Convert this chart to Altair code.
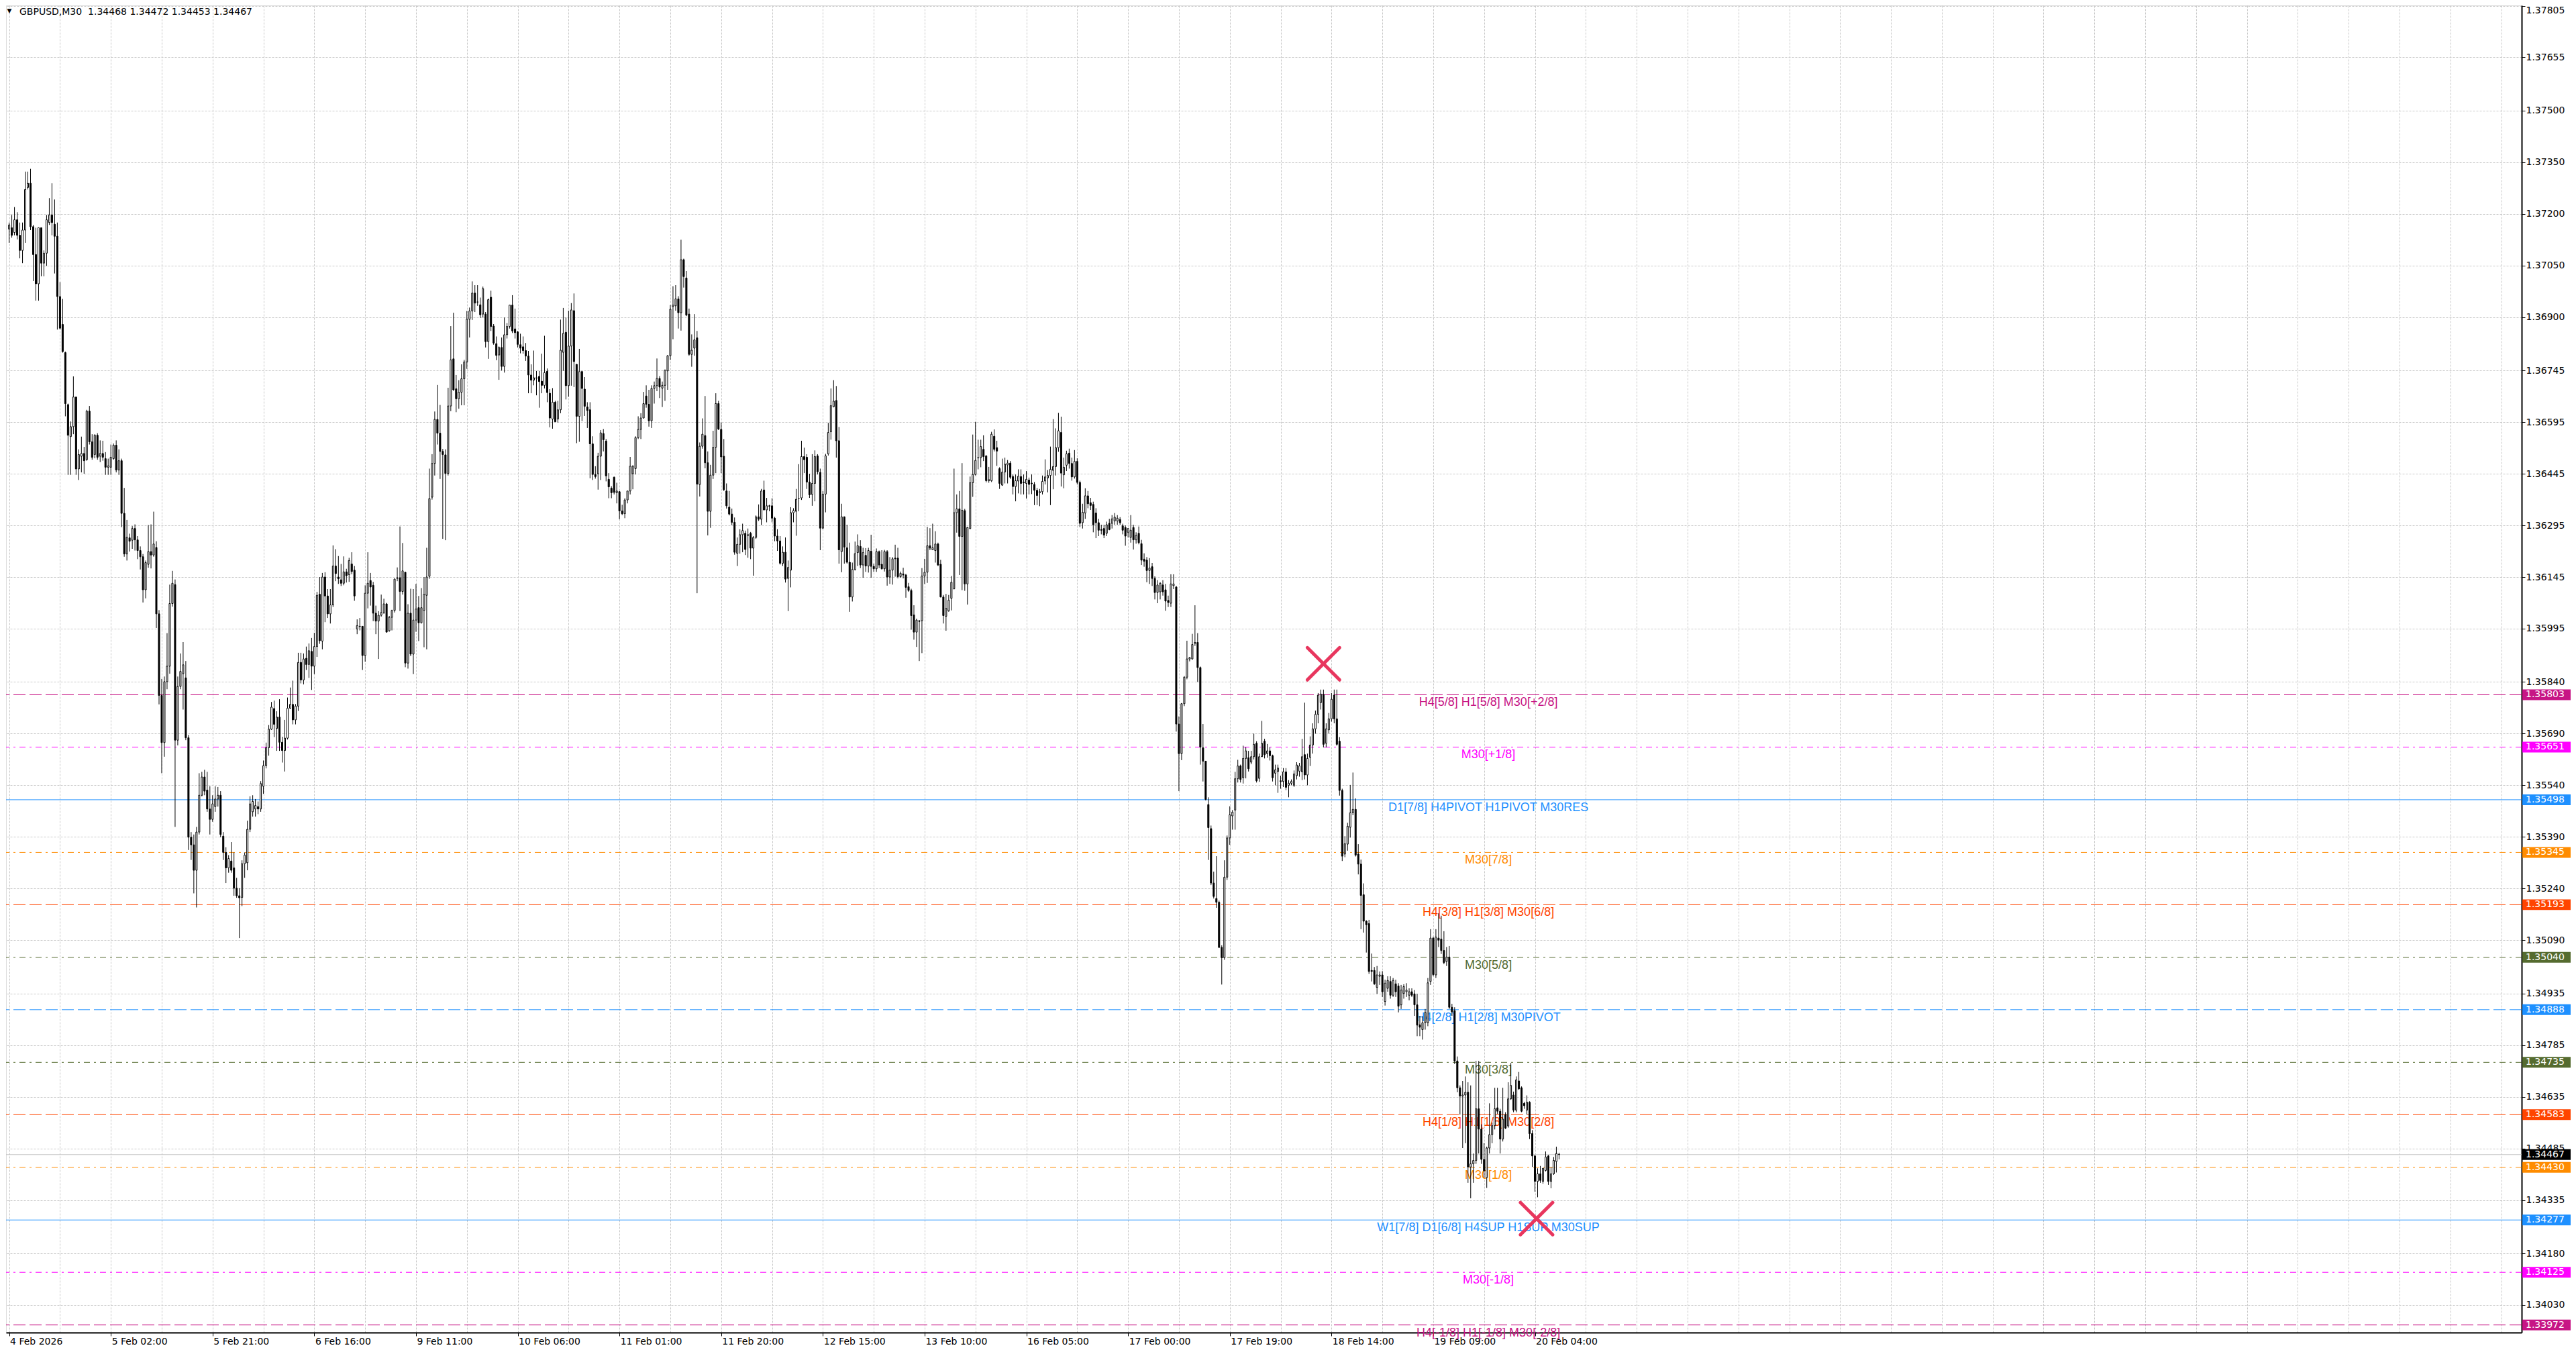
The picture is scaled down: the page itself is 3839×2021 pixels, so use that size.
import json
import altair as alt
import pandas as pd

# ---------------- data (prices in points: price = 1.3 + v / 100000) ----------------
BASE = 1.3
SCALE = 100000.0

O = [
7156,7160,7146,7183,7138,7094,7153,7277,7289,7163,
7082,6997,7160,7057,7086,7175,7197,7170,7135,6960,
6879,6797,6646,6553,6582,6668,6459,6496,6504,6486,
6627,6538,6501,6557,6496,6504,6489,6464,6464,6489,
6528,6456,6483,6330,6212,6259,6252,6286,6253,6222,
6204,6108,6182,6219,6209,6231,6038,5801,5664,5841,
5886,6068,6123,5671,5827,5864,5852,5678,5389,5367,
5293,5404,5511,5564,5526,5471,5441,5478,5500,5511,
5392,5345,5300,5320,5300,5241,5219,5214,5312,5315,
5412,5463,5471,5478,5471,5537,5597,5649,5703,5763,
5705,5738,5665,5641,5677,5764,5775,5730,5770,5897,
5846,5909,5891,5929,5886,5943,6095,5959,6145,6090,
6038,6064,6177,6145,6137,6127,6160,6152,6183,6165,
5994,6001,6002,5917,6098,6135,6121,6040,6017,6034,
6042,6067,5989,6028,6048,6141,6143,6103,6159,5895,
6040,5921,6020,6056,6012,6048,6092,6147,6377,6475,
6603,6563,6510,6500,6446,6642,6779,6692,6663,6682,
6721,6770,6894,6918,6970,6944,6936,6909,6909,6829,
6958,6874,6823,6790,6812,6757,6849,6873,6935,6866,
6857,6820,6814,6803,6787,6732,6717,6724,6728,6714,
6702,6743,6679,6604,6653,6604,6631,6798,6856,6701,
6816,6919,6763,6612,6742,6691,6639,6631,6532,6443,
6445,6496,6562,6540,6429,6403,6435,6390,6393,6337,
6329,6369,6395,6445,6460,6550,6574,6607,6671,6647,
6599,6693,6701,6722,6694,6702,6744,6788,6931,6933,
6953,6913,7067,7014,6909,6792,6810,6840,6414,6525,
6556,6477,6336,6441,6522,6649,6574,6496,6395,6348,
6328,6304,6214,6240,6268,6272,6268,6272,6229,6260,
6320,6313,6398,6340,6352,6352,6316,6264,6250,6185,
6217,6141,6165,6332,6336,6374,6375,6495,6493,6421,
6385,6417,6497,6449,6287,6386,6503,6567,6640,6658,
6541,6219,6320,6230,6188,6087,6167,6216,6234,6180,
6208,6177,6220,6176,6169,6219,6182,6169,6219,6145,
6165,6200,6200,6146,6154,6151,6117,6106,6035,5985,
6018,6018,6148,6159,6236,6224,6222,6241,6182,6087,
6031,6047,6083,6111,6332,6343,6263,6338,6125,6286,
6419,6443,6491,6492,6516,6497,6425,6425,6554,6521,
6460,6412,6450,6471,6476,6437,6408,6424,6437,6421,
6417,6427,6418,6414,6397,6390,6393,6424,6433,6440,
6455,6466,6521,6565,6442,6470,6505,6475,6436,6481,
6420,6303,6331,6381,6361,6356,6331,6303,6283,6286,
6272,6301,6301,6308,6308,6312,6294,6289,6275,6260,
6289,6253,6272,6242,6197,6194,6164,6175,6141,6100,
6102,6122,6108,6077,6069,6120,6116,5718,5632,5777,
5854,5907,5907,5952,5955,5882,5649,5610,5484,5414,
5256,5211,5200,5069,5039,5273,5387,5451,5468,5559,
5596,5562,5618,5620,5607,5623,5662,5560,5623,5668,
5632,5640,5626,5575,5580,5553,5551,5579,5540,5546,
5540,5568,5581,5579,5629,5570,5621,5657,5704,5746,
5780,5804,5662,5701,5733,5802,5733,5668,5525,5340,
5369,5418,5460,5470,5340,5311,5222,5145,5138,5002,
5002,4953,4985,4989,4912,4950,4970,4930,4963,4957,
4902,4935,4940,4930,4940,4934,4902,4844,4830,4850,
4850,4970,5096,4989,5096,5093,5060,5028,5041,4895,
4885,4739,4661,4637,4640,4648,4431,4440,4450,4600,
4541,4453,4400,4486,4525,4551,4603,4593,4512,4583,
4550,4629,4640,4596,4681,4661,4616,4596,4619,4528,
4463,4389,4411,4389,4421,4463,4389,4411,4447,4468,
]

H = [
7175,7197,7220,7205,7175,7175,7323,7323,7331,7168,
7160,7160,7160,7094,7197,7246,7289,7242,7175,7002,
6953,6800,6649,6597,6728,6668,6516,6553,6523,6631,
6642,6560,6560,6563,6542,6541,6508,6489,6530,6533,
6542,6516,6489,6404,6311,6271,6293,6298,6264,6234,
6212,6193,6296,6298,6335,6249,6049,5849,5856,5982,
6123,6163,6138,5856,5923,5956,5901,5686,5404,5397,
5419,5575,5579,5585,5579,5537,5511,5537,5535,5523,
5404,5360,5337,5375,5345,5271,5241,5322,5345,5437,
5508,5511,5500,5493,5552,5612,5664,5715,5782,5786,
5755,5790,5681,5730,5795,5824,5844,5776,5925,5925,
5923,5943,5952,5968,5983,6102,6145,6157,6159,6110,
6110,6237,6226,6206,6183,6205,6169,6201,6217,6177,
6022,6026,6002,6121,6217,6157,6131,6062,6046,6094,
6082,6070,6032,6050,6141,6173,6292,6244,6159,6066,
6111,6110,6125,6090,6113,6145,6230,6460,6502,6626,
6703,6645,6517,6516,6695,6874,6913,6732,6717,6763,
6776,6918,6928,7004,6993,6993,6957,6989,6915,6954,
6977,6880,6844,6815,6841,6899,6883,6935,6964,6925,
6860,6852,6844,6825,6802,6763,6803,6744,6744,6794,
6846,6751,6691,6694,6657,6657,6893,6927,6899,6919,
6941,6969,6764,6808,6744,6726,6653,6653,6554,6467,
6506,6572,6575,6546,6447,6409,6437,6419,6395,6355,
6374,6395,6494,6470,6554,6612,6621,6683,6702,6689,
6702,6713,6780,6729,6713,6748,6790,6935,6990,6993,
6961,7125,7070,7034,6925,6850,6909,6860,6536,6606,
6671,6510,6471,6570,6679,6657,6594,6546,6417,6395,
6344,6318,6260,6284,6300,6280,6286,6276,6264,6324,
6356,6401,6425,6375,6355,6374,6320,6284,6264,6234,
6260,6193,6348,6345,6401,6473,6541,6521,6502,6445,
6502,6513,6502,6460,6395,6503,6593,6693,6717,6700,
6581,6358,6321,6297,6245,6187,6248,6269,6252,6230,
6229,6230,6268,6184,6228,6222,6223,6224,6223,6203,
6203,6239,6230,6161,6172,6154,6128,6111,6063,6024,
6020,6171,6198,6291,6287,6300,6278,6245,6195,6093,
6096,6093,6148,6460,6385,6395,6476,6343,6291,6437,
6559,6596,6544,6544,6557,6499,6465,6567,6574,6541,
6464,6489,6492,6485,6482,6443,6443,6458,6458,6443,
6453,6434,6443,6421,6404,6401,6440,6487,6456,6524,
6604,6577,6622,6611,6492,6512,6518,6492,6514,6490,
6425,6358,6403,6395,6375,6364,6345,6314,6297,6297,
6306,6314,6325,6331,6325,6319,6300,6295,6286,6325,
6297,6275,6292,6253,6214,6203,6200,6186,6147,6136,
6130,6136,6125,6091,6153,6153,6119,5740,5779,5857,
5960,5913,5980,6063,5982,5885,5718,5611,5505,5423,
5289,5334,5205,5075,5322,5394,5479,5468,5579,5614,
5600,5655,5651,5640,5640,5690,5668,5632,5727,5675,
5660,5651,5629,5600,5600,5568,5590,5590,5555,5557,
5583,5607,5605,5675,5780,5632,5682,5720,5757,5808,
5818,5818,5720,5750,5808,5818,5818,5680,5530,5392,
5431,5541,5577,5502,5369,5324,5255,5148,5149,5051,
5012,5015,4999,5000,4975,4985,4985,4980,4975,4965,
4960,4962,4965,4950,4950,4945,4934,4870,4869,4890,
4980,5122,5100,5122,5168,5161,5116,5070,5073,4905,
4895,4752,4668,4681,4694,4677,4668,4470,4739,4739,
4555,4500,4490,4616,4560,4661,4661,4600,4661,4590,
4677,4733,4650,4694,4707,4665,4620,4639,4622,4538,
4466,4427,4434,4427,4476,4466,4431,4460,4490,4472,
]

L = [
7116,7131,7138,7126,7071,7057,7116,7271,7153,7005,
6948,6948,7019,7019,7049,7168,7138,7027,6864,6864,
6797,6612,6442,6442,6560,6442,6427,6449,6445,6483,
6530,6486,6490,6486,6479,6483,6442,6442,6442,6486,
6449,6442,6290,6204,6193,6219,6227,6222,6197,6167,
6071,6083,6172,6170,6204,5997,5775,5575,5623,5819,
5864,6059,5419,5656,5819,5760,5671,5352,5323,5226,
5185,5397,5508,5511,5463,5397,5434,5463,5478,5389,
5323,5256,5286,5286,5219,5213,5096,5189,5271,5293,
5404,5449,5449,5456,5463,5515,5589,5626,5701,5680,
5640,5640,5606,5580,5673,5762,5717,5717,5756,5836,
5833,5875,5852,5817,5863,5913,5951,5935,6014,6026,
6010,6058,6133,6125,6119,6121,6129,6131,6153,6076,
5979,5990,5875,5899,6054,6062,6017,5979,5907,6030,
6038,5984,5986,5990,6042,6133,6046,6094,5883,5879,
5915,5863,5986,5959,6010,5941,5935,6140,6370,6440,
6530,6430,6256,6252,6440,6627,6686,6624,6634,6644,
6644,6750,6841,6892,6915,6933,6898,6899,6812,6779,
6860,6820,6775,6718,6745,6739,6838,6867,6854,6838,
6812,6795,6794,6773,6679,6679,6702,6673,6637,6679,
6693,6653,6580,6576,6596,6594,6621,6744,6661,6669,
6701,6697,6534,6538,6598,6613,6578,6432,6427,6431,
6399,6427,6510,6423,6374,6374,6385,6359,6313,6325,
6316,6359,6385,6400,6443,6546,6546,6606,6637,6582,
6578,6649,6685,6665,6639,6657,6689,6776,6836,6919,
6867,6861,6986,6903,6788,6756,6788,6098,6379,6518,
6461,6266,6288,6430,6447,6572,6447,6395,6344,6324,
6296,6210,6177,6213,6217,6209,6201,6197,6149,6256,
6308,6296,6339,6304,6336,6304,6249,6221,6181,6177,
6129,6046,6115,6304,6265,6336,6369,6447,6401,6375,
6352,6365,6443,6223,6284,6333,6498,6544,6638,6492,
6184,6159,6184,6184,6044,6074,6164,6177,6171,6143,
6160,6158,6143,6160,6160,6171,6167,6161,6120,6125,
6123,6146,6141,6143,6141,6085,6102,5992,5963,5942,
5901,5924,6125,6128,6223,6223,6187,6177,6086,6010,
5989,6044,6048,6109,6274,6151,6107,6105,6065,6284,
6378,6440,6458,6464,6482,6420,6419,6421,6510,6468,
6401,6410,6417,6417,6430,6385,6365,6388,6385,6385,
6373,6385,6386,6354,6354,6351,6385,6414,6391,6354,
6400,6440,6509,6408,6403,6453,6460,6425,6431,6414,
6290,6286,6314,6345,6340,6275,6258,6264,6269,6258,
6264,6281,6286,6297,6297,6297,6269,6236,6260,6245,
6225,6242,6240,6180,6175,6130,6125,6119,6080,6069,
6080,6091,6047,6058,6058,6110,5696,5523,5613,5770,
5848,5900,5905,5945,5840,5600,5551,5496,5323,5250,
5211,5184,5067,4961,5033,5265,5367,5411,5411,5548,
5548,5545,5560,5580,5601,5615,5548,5550,5623,5618,
5620,5612,5551,5540,5518,5530,5535,5526,5505,5540,
5535,5557,5565,5555,5557,5540,5596,5632,5690,5720,
5760,5650,5650,5690,5725,5720,5655,5510,5320,5331,
5350,5388,5453,5333,5281,5122,5112,5054,4992,4970,
4960,4934,4960,4925,4900,4940,4920,4925,4925,4880,
4890,4920,4925,4915,4925,4870,4811,4811,4801,4830,
4840,4960,4985,4980,5070,5050,5020,5015,4890,4870,
4730,4648,4583,4486,4500,4385,4340,4385,4440,4470,
4440,4400,4370,4470,4500,4540,4585,4470,4505,4541,
4545,4626,4590,4590,4655,4590,4600,4583,4512,4431,
4359,4343,4385,4382,4418,4379,4369,4408,4415,4453,
]

C = [
7168,7138,7183,7138,7094,7153,7271,7289,7163,7082,
6997,7160,7057,7086,7183,7197,7175,7135,6960,6868,
6800,6649,6557,6582,6668,6459,6501,6504,6483,6627,
6538,6493,6557,6493,6504,6493,6464,6468,6493,6528,
6456,6483,6330,6212,6261,6249,6286,6253,6222,6204,
6108,6187,6219,6209,6241,6038,5801,5664,5841,5886,
6068,6127,5671,5827,5871,5890,5678,5389,5367,5293,
5404,5511,5564,5523,5471,5441,5486,5500,5511,5397,
5345,5300,5327,5293,5241,5219,5213,5312,5337,5412,
5486,5493,5481,5471,5545,5597,5649,5703,5767,5717,
5738,5665,5641,5677,5764,5775,5730,5770,5897,5846,
5907,5891,5931,5886,5943,6092,5960,6145,6090,6038,
6064,6177,6155,6140,6127,6160,6149,6193,6161,6090,
6004,6002,5917,6098,6127,6116,6040,6017,6034,6042,
6067,5985,6028,6048,6139,6143,6103,6163,5895,6040,
5921,6020,6052,6012,6056,6095,6145,6373,6475,6603,
6563,6510,6501,6446,6642,6776,6689,6663,6682,6721,
6770,6894,6918,6970,6941,6944,6907,6983,6829,6951,
6873,6825,6789,6812,6757,6849,6873,6935,6860,6855,
6821,6810,6803,6787,6732,6717,6724,6723,6713,6702,
6739,6681,6607,6653,6596,6631,6804,6853,6701,6816,
6921,6771,6612,6742,6693,6641,6629,6532,6443,6437,
6496,6564,6544,6439,6407,6390,6391,6395,6337,6329,
6369,6395,6467,6467,6550,6574,6607,6649,6647,6599,
6693,6701,6722,6697,6702,6746,6788,6923,6935,6953,
6913,7067,7018,6906,6792,6804,6834,6415,6525,6560,
6477,6336,6441,6522,6649,6575,6494,6399,6352,6328,
6304,6217,6240,6268,6280,6225,6266,6229,6260,6320,
6313,6395,6340,6352,6351,6316,6264,6250,6185,6217,
6139,6173,6332,6338,6371,6374,6495,6486,6421,6384,
6417,6495,6451,6287,6386,6497,6565,6643,6656,6541,
6224,6320,6232,6188,6087,6167,6213,6236,6180,6216,
6177,6222,6176,6169,6219,6180,6169,6219,6145,6165,
6198,6198,6146,6156,6151,6115,6106,6033,5985,6020,
6016,6148,6159,6236,6229,6230,6241,6180,6087,6033,
6054,6078,6130,6332,6343,6263,6339,6125,6289,6419,
6443,6484,6492,6524,6495,6425,6428,6560,6516,6511,
6417,6450,6473,6476,6435,6408,6425,6438,6417,6419,
6429,6414,6416,6397,6382,6393,6423,6436,6440,6458,
6466,6521,6570,6447,6464,6503,6475,6436,6481,6420,
6301,6333,6381,6358,6353,6297,6303,6281,6281,6267,
6297,6283,6314,6319,6316,6303,6281,6264,6286,6281,
6253,6266,6245,6194,6191,6164,6171,6141,6100,6122,
6127,6102,6075,6071,6125,6125,5718,5632,5777,5854,
5907,5911,5949,5955,5882,5651,5610,5499,5417,5256,
5217,5200,5069,5039,5273,5387,5454,5462,5559,5596,
5557,5618,5640,5588,5623,5659,5553,5623,5662,5629,
5640,5626,5562,5585,5590,5551,5579,5534,5546,5551,
5573,5599,5596,5623,5570,5618,5657,5704,5746,5802,
5805,5659,5704,5733,5790,5733,5659,5525,5334,5370,
5421,5460,5470,5337,5311,5220,5145,5135,4999,4999,
4963,4989,4989,4940,4965,4973,4930,4973,4940,4898,
4945,4955,4945,4940,4930,4902,4843,4837,4850,4880,
4966,5096,4990,5099,5090,5060,5025,5041,4895,4882,
4739,4661,4637,4640,4648,4431,4440,4450,4600,4541,
4453,4420,4486,4525,4551,4600,4593,4512,4570,4544,
4629,4668,4596,4684,4658,4593,4609,4619,4528,4463,
4389,4411,4392,4427,4460,4389,4411,4450,4470,4467,
]

SYMBOL = "GBPUSD,M30"
TIME_LABELS = ["4 Feb 2026", "5 Feb 02:00", "5 Feb 21:00", "6 Feb 16:00", "9 Feb 11:00",
               "10 Feb 06:00", "11 Feb 01:00", "11 Feb 20:00", "12 Feb 15:00", "13 Feb 10:00",
               "16 Feb 05:00", "17 Feb 00:00", "17 Feb 19:00", "18 Feb 14:00", "19 Feb 09:00",
               "20 Feb 04:00"]
LABEL_STEP = 38  # bars between time labels (19 hours of M30 bars)

Y_TICKS = [1.37805, 1.37655, 1.37500, 1.37350, 1.37200, 1.37050, 1.36900, 1.36745, 1.36595,
           1.36445, 1.36295, 1.36145, 1.35995, 1.35840, 1.35690, 1.35540, 1.35390, 1.35240,
           1.35090, 1.34935, 1.34785, 1.34635, 1.34485, 1.34335, 1.34180, 1.34030]

LEVEL_PRICES = [1.35803, 1.35651, 1.35498, 1.35345, 1.35193, 1.35040, 1.34888,
                1.34735, 1.34583, 1.34430, 1.34277, 1.34125, 1.33972]
LEVEL_TEXT = ["H4[5/8] H1[5/8] M30[+2/8]", "M30[+1/8]", "D1[7/8] H4PIVOT H1PIVOT M30RES",
              "M30[7/8]", "H4[3/8] H1[3/8] M30[6/8]", "M30[5/8]", "H4[2/8] H1[2/8] M30PIVOT",
              "M30[3/8]", "H4[1/8] H1[1/8] M30[2/8]", "M30[1/8]",
              "W1[7/8] D1[6/8] H4SUP H1SUP M30SUP", "M30[-1/8]", "H4[-1/8] H1[-1/8] M30[-2/8]"]
LEVEL_COLOR = ["#C71585", "#FF00FF", "#1E90FF", "#FF8C00", "#FF4500", "#556B2F", "#1E90FF",
               "#556B2F", "#FF4500", "#FF8C00", "#1E90FF", "#FF00FF", "#C71585"]
LEVEL_STYLE = ["dash", "dashdot", "solid", "dashdot", "dash", "dashdot", "dash",
               "dashdot", "dash", "dashdot", "solid", "dashdot", "dash"]

CURRENT_PRICE = 1.34467
MARK_BARS = [491, 570.6]
MARK_PRICES = [1.35893, 1.34281]

# ---------------- layout ----------------
W, HT = 3749, 1978
PX_PER_BAR = 4.0
X_DOMAIN = [0.1, 0.1 + W / PX_PER_BAR]
Y_DOMAIN = [1.33950, 1.37806]
LABEL_BAR = 552.6

n = min(len(O), len(H), len(L), len(C))
rows = []
for i in range(n):
    o = BASE + O[i] / SCALE
    c = BASE + C[i] / SCALE
    h = max(BASE + H[i] / SCALE, o, c)
    lo = min(BASE + L[i] / SCALE, o, c)
    rows.append({"i": i, "o": o, "h": h, "l": lo, "c": c,
                 "top": max(o, c), "bot": min(o, c), "up": bool(c >= o)})
df = pd.DataFrame(rows)

lev = pd.DataFrame({"price": LEVEL_PRICES, "text": LEVEL_TEXT,
                    "color": LEVEL_COLOR, "style": LEVEL_STYLE})
badges = pd.DataFrame({"price": LEVEL_PRICES + [CURRENT_PRICE],
                       "color": LEVEL_COLOR + ["#000000"]})
marks_df = pd.DataFrame({"bar": MARK_BARS, "price": MARK_PRICES})

title_txt = SYMBOL + "\u00a0\u00a0" + " ".join(
    f"{BASE + v[n - 1] / SCALE:.5f}" for v in (O, H, L, C))
title_df = pd.DataFrame({"t": [title_txt]})

xs = alt.Scale(domain=X_DOMAIN, nice=False, zero=False)
ys = alt.Scale(domain=Y_DOMAIN, nice=False, zero=False)

grid_vals = list(range(0, int(X_DOMAIN[1]) + 1, LABEL_STEP // 2))
nlab = len(TIME_LABELS)
label_expr = (f"(datum.value % {LABEL_STEP} === 0 && datum.value / {LABEL_STEP} < {nlab}) ? "
              f"{json.dumps(TIME_LABELS)}[datum.value / {LABEL_STEP}] : ''")

x_axis = alt.Axis(values=grid_vals, labelExpr=label_expr, grid=True, gridColor="#C8C8C8",
                  gridDash=[3, 2], gridWidth=1, labelAlign="left", labelOffset=1,
                  labelPadding=1, tickSize=5, tickColor="black",
                  tickOpacity={"condition": {"test": f"datum.value % {LABEL_STEP} === 0 && datum.value <= {LABEL_STEP * (nlab - 1)}",
                                             "value": 1}, "value": 0},
                  domainColor="black", domainWidth=2, labelFont="DejaVu Sans", labelFontSize=14,
                  labelColor="black", title=None, labelOverlap=False, labelFlush=False)
y_axis = alt.Axis(values=Y_TICKS, format=".5f", orient="right", grid=True, gridColor="#C8C8C8",
                  gridDash=[3, 2], gridWidth=1, tickSize=5, tickColor="black", labelPadding=1,
                  domainColor="black", domainWidth=2, labelFont="DejaVu Sans", labelFontSize=14,
                  labelColor="black", title=None, labelOverlap=False, labelFlush=4)

X_I = alt.X("i:Q", scale=xs, axis=x_axis)
Y_PRICE = alt.Y("price:Q", scale=ys, axis=y_axis)

level_lines = alt.Chart(lev).mark_rule(strokeWidth=1).encode(
    y=Y_PRICE,
    color=alt.Color("color:N", scale=None),
    strokeDash=alt.StrokeDash("style:N", legend=None,
                              scale=alt.Scale(domain=["solid", "dash", "dashdot"],
                                              range=[[1, 0], [18, 6], [9, 6, 3, 6]])),
)

level_text = alt.Chart(lev).mark_text(font="Liberation Sans", fontSize=18, align="center",
                                      baseline="alphabetic", dy=17).encode(
    x=alt.datum(LABEL_BAR),
    y=Y_PRICE,
    text="text:N",
    color=alt.Color("color:N", scale=None),
)

current_line = alt.Chart(pd.DataFrame({"price": [CURRENT_PRICE]})).mark_rule(
    color="#C0C0C0", strokeWidth=1).encode(y=Y_PRICE)

wicks = alt.Chart(df).mark_rule(color="black", strokeWidth=1).encode(
    x=X_I, y=alt.Y("l:Q", scale=ys, axis=y_axis), y2="h:Q")

bodies = alt.Chart(df).mark_bar(size=2, stroke="black", strokeWidth=1).encode(
    x=X_I,
    y=alt.Y("bot:Q", scale=ys, axis=y_axis),
    y2="top:Q",
    fill=alt.condition("datum.up", alt.value("white"), alt.value("black")),
)

cross = alt.Chart(marks_df).mark_point(shape="M-1,-1L1,1M1,-1L-1,1", size=2304, filled=False,
                                       strokeWidth=5, strokeCap="round", color="#E8365E",
                                       opacity=1).encode(
    x=alt.X("bar:Q", scale=xs, axis=x_axis), y=Y_PRICE)

badge_box = alt.Chart(badges).mark_point(shape="M-1,-0.222H1V0.222H-1Z", size=5184, filled=True,
                                         opacity=1, strokeWidth=0).encode(
    x=alt.value(W + 37), y=Y_PRICE, color=alt.Color("color:N", scale=None))

badge_text = alt.Chart(badges).mark_text(align="left", baseline="middle", font="DejaVu Sans",
                                         fontSize=14, color="white").encode(
    x=alt.value(W + 6), y=Y_PRICE, text=alt.Text("price:Q", format=".5f"))

title_tri = alt.Chart(title_df).mark_text(text="\u25bc", align="center", baseline="middle",
                                          fontSize=9, font="DejaVu Sans", color="black").encode(
    x=alt.value(5), y=alt.value(8))
title_text = alt.Chart(title_df).mark_text(align="left", baseline="alphabetic", font="DejaVu Sans",
                                           fontSize=14, color="black").encode(
    x=alt.value(20), y=alt.value(14), text="t:N")

chart = alt.layer(
    level_lines, current_line, level_text, wicks, bodies, cross,
    badge_box, badge_text, title_tri, title_text,
).properties(
    width=W, height=HT,
    padding={"left": 0, "top": 0, "right": 0, "bottom": 0},
).configure_view(stroke="#333333", strokeWidth=1).configure(background="white")

chart.save("out.html", embed_options={"renderer": "svg", "actions": False})
